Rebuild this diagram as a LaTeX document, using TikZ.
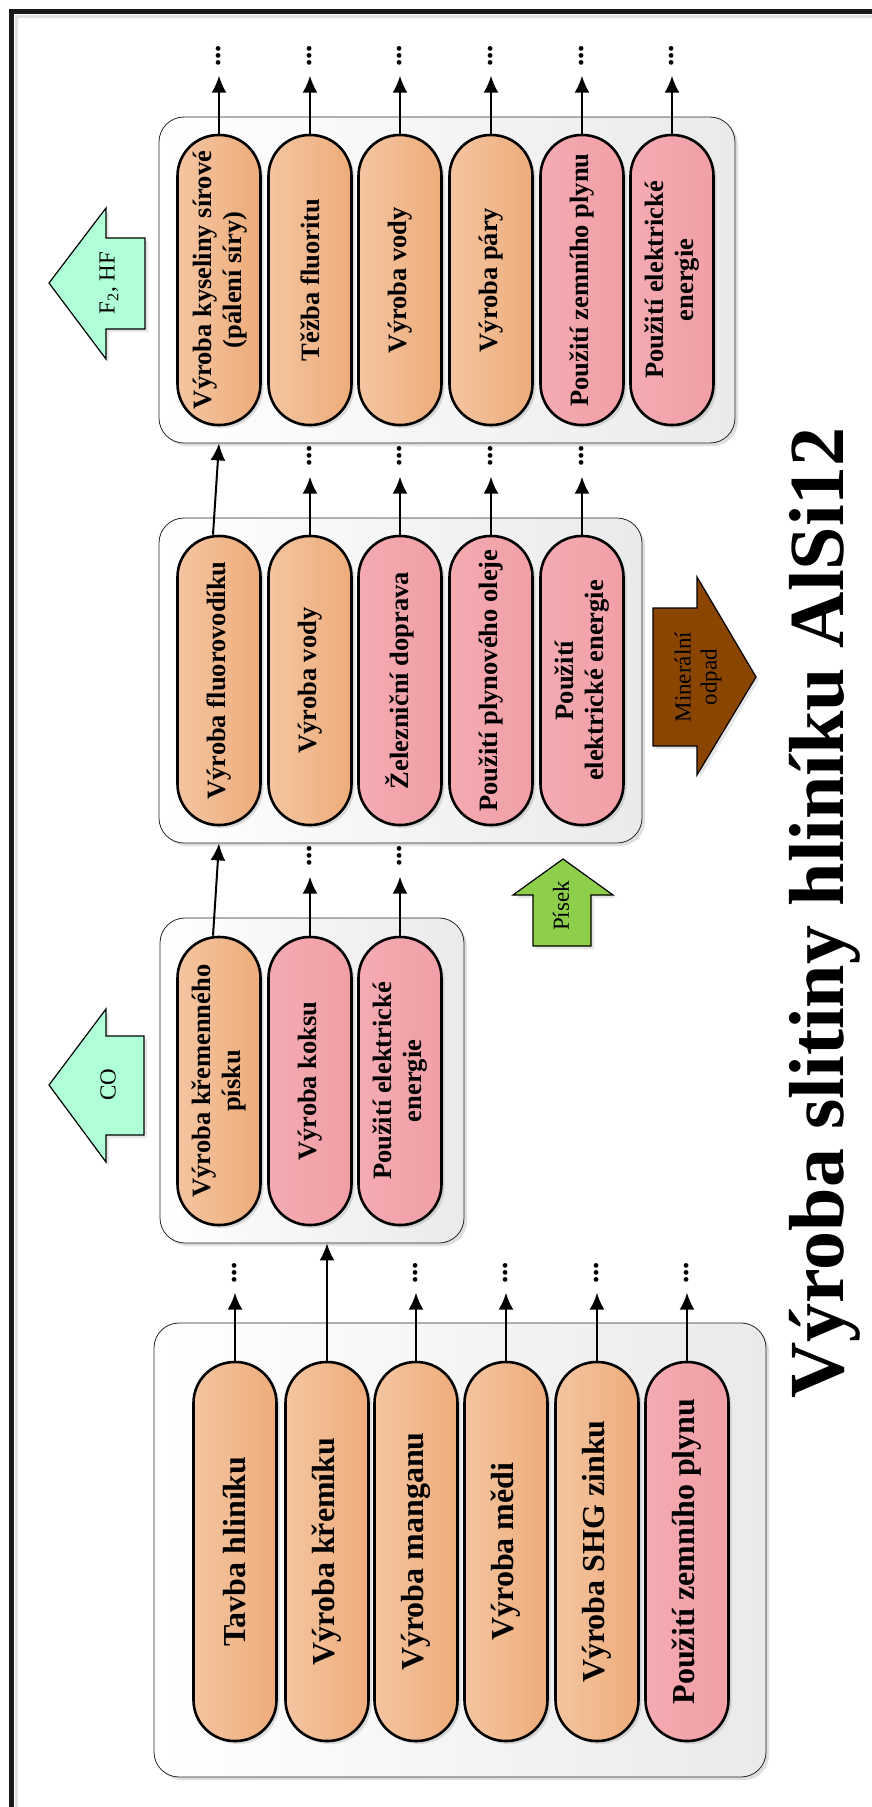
\documentclass[tikz,border=0pt]{standalone}
\usepackage{fontspec}
\setmainfont{Liberation Serif}
\usetikzlibrary{shadows,arrows.meta,calc}

\definecolor{orangeL}{HTML}{F4C5A1}
\definecolor{orangeR}{HTML}{EEAC7A}
\definecolor{pinkL}{HTML}{F5AAB1}
\definecolor{pinkR}{HTML}{F19FA6}
\definecolor{boxR}{HTML}{EAEAEA}
\definecolor{aqua}{HTML}{AFFFD7}
\definecolor{sand}{HTML}{8DCF4A}
\definecolor{waste}{HTML}{8A4600}

\newcommand{\bigpill}{\fontsize{32}{36}\selectfont\bfseries}
\newcommand{\smallpill}{\fontsize{26.5}{30.5}\selectfont\bfseries}
\newcommand{\flowtext}{\fontsize{23}{26}\selectfont}

\begin{document}
\begin{tikzpicture}[x=1pt,y=-1pt,
  group/.style={draw=black!85, line width=0.8pt, rounded corners=25pt,
    left color=white, right color=boxR, inner sep=0pt,
    drop shadow={shadow xshift=3pt,shadow yshift=-3pt,opacity=0.25}},
  pill/.style={draw=black, line width=2.6pt, rounded corners=41pt,
    minimum width=83pt, inner sep=0pt,
    drop shadow={shadow xshift=3pt,shadow yshift=-3pt,opacity=0.25}},
  prod/.style={pill, left color=orangeL, right color=orangeR},
  energy/.style={pill, left color=pinkL, right color=pinkR},
  ptext/.style={rotate=90, align=center, inner sep=0pt},
  flow/.style={line width=2pt, -{Latex[length=17pt,width=15pt]}},
  more/.style={rotate=90, inner sep=0pt, font=\fontsize{29}{30}\selectfont\bfseries},
  bigarrow/.style={draw=black, line width=1.2pt,
    drop shadow={shadow xshift=3pt,shadow yshift=-3pt,opacity=0.2}},
  atext/.style={rotate=90, align=center, inner sep=0pt, font=\flowtext, text=black}
]
\useasboundingbox (0,0) rectangle (872,1807);

% outer frame
\draw[gray!25, line width=3pt] (16,1830) -- (16,16) -- (890,16);
\draw[black!90, line width=4.5pt] (11.5,1830) -- (11.5,11.5) -- (890,11.5);

% ---------- group boxes ----------
\node[group, minimum width=576pt, minimum height=326pt] (g4) at (447,280) {};
\node[group, minimum width=483pt, minimum height=325pt] (g3) at (400.5,680.5) {};
\node[group, minimum width=304pt, minimum height=325pt] (g2) at (312,1080.5) {};
\node[group, minimum width=612pt, minimum height=454pt] (g1) at (460,1550) {};

% ---------- stage 4 ----------
\foreach \n/\x/\s in {a/219/prod, b/310/prod, c/400/prod, d/491/prod, e/582/energy, f/672/energy}
  \node[\s, minimum height=290pt] (p4\n) at (\x,280) {};
\node[ptext, font=\smallpill] (t4a) at ([xshift=1pt]p4a) {Výroba kyseliny sírové\\(pálení síry)};
\node[ptext, font=\smallpill] (t4b) at (p4b) {Těžba fluoritu};
\node[ptext, font=\smallpill] (t4c) at (p4c) {Výroba vody};
\node[ptext, font=\smallpill] (t4d) at (p4d) {Výroba páry};
\node[ptext, font=\smallpill] (t4e) at (p4e) {Použití zemního plynu};
\node[ptext, font=\smallpill] (t4f) at (p4f) {Použití elektrické\\energie};

% ---------- stage 3 ----------
\foreach \n/\x/\s in {a/219/prod, b/310/prod, c/400/energy, d/491/energy, e/582/energy}
  \node[\s, minimum height=289pt] (p3\n) at (\x,680.5) {};
\node[ptext, font=\smallpill] (t3a) at (p3a) {Výroba fluorovodíku};
\node[ptext, font=\smallpill] (t3b) at (p3b) {Výroba vody};
\node[ptext, font=\smallpill] (t3c) at (p3c) {Železniční doprava};
\node[ptext, font=\smallpill] (t3d) at (p3d) {Použití plynového oleje};
\node[ptext, font=\smallpill] (t3e) at (p3e) {Použití\\elektrické energie};

% ---------- stage 2 ----------
\foreach \n/\x/\s in {a/219/prod, b/310/energy, c/400/energy}
  \node[\s, minimum height=288pt] (p2\n) at (\x,1081) {};
\node[ptext, font=\smallpill] (t2a) at (p2a) {Výroba křemenného\\písku};
\node[ptext, font=\smallpill] (t2b) at (p2b) {Výroba koksu};
\node[ptext, font=\smallpill] (t2c) at (p2c) {Použití elektrické\\energie};

% ---------- stage 1 ----------
\foreach \n/\x/\s in {a/235/prod, b/327/prod, c/416/prod, d/506/prod, e/597/prod, f/687/energy}
  \node[\s, minimum height=379pt] (p1\n) at (\x,1551.5) {};
\node[ptext, font=\bigpill] (t1a) at (p1a) {Tavba hliníku};
\node[ptext, font=\bigpill] (t1b) at (p1b) {Výroba křemíku};
\node[ptext, font=\bigpill] (t1c) at (p1c) {Výroba manganu};
\node[ptext, font=\bigpill] (t1d) at (p1d) {Výroba mědi};
\node[ptext, font=\bigpill] (t1e) at (p1e) {Výroba SHG zinku};
\node[ptext, font=\bigpill] (t1f) at (p1f) {Použití zemního plynu};

% ---------- open-ended outputs ----------
\foreach \n in {a,b,c,d,e,f}{
  \coordinate (e4\n) at ($(p4\n.north)+(0,-58)$);
  \draw[flow] (p4\n.north) -- (e4\n);
  \node[more] (m4\n) at ($(e4\n)+(0,-20)$) {...};
}
\foreach \n in {b,c,d,e}{
  \coordinate (e3\n) at ($(p3\n.north)+(0,-58)$);
  \draw[flow] (p3\n.north) -- (e3\n);
  \node[more] (m3\n) at ($(e3\n)+(0,-21)$) {...};
}
\foreach \n in {b,c}{
  \coordinate (e2\n) at ($(p2\n.north)+(0,-59)$);
  \draw[flow] (p2\n.north) -- (e2\n);
  \node[more] (m2\n) at ($(e2\n)+(0,-21)$) {...};
}
\foreach \n in {a,c,d,e,f}{
  \coordinate (e1\n) at ($(p1\n.north)+(0,-68)$);
  \draw[flow] (p1\n.north) -- (e1\n);
  \node[more] (m1\n) at ($(e1\n)+(0,-20)$) {...};
}

% ---------- links between stages ----------
\draw[flow] ([xshift=-6pt]p3a.north) -- (p4a |- g4.south);
\draw[flow] ([xshift=-6pt]p2a.north) -- (p3a |- g3.south);
\draw[flow] (p1b.north) -- (p1b |- g2.south);

% ---------- emissions and inputs ----------
\draw[bigarrow, fill=aqua] (49,283) -- (106,208) -- (106,238) -- (145,238)
  -- (145,329) -- (106,329) -- (106,359) -- cycle;
\node[atext] (f2hf) at (109,283) {F\textsubscript{2}, HF};

\draw[bigarrow, fill=aqua] (49,1085) -- (106,1009) -- (106,1036) -- (144,1036)
  -- (144,1135) -- (106,1135) -- (106,1162) -- cycle;
\node[atext] (co) at (108,1085) {CO};

\draw[bigarrow, fill=waste] (653,608) -- (697,608) -- (697,577) -- (756,677)
  -- (697,775) -- (697,746) -- (653,746) -- cycle;
\node[atext] (odpad) at (698,677) {Minerální\\odpad};

\draw[bigarrow, fill=sand] (563,859) -- (613,895) -- (591,895) -- (591,946)
  -- (533,946) -- (533,895) -- (513,895) -- cycle;
\node[atext] (pisek) at (561,906) {Písek};

% ---------- title ----------
\node[rotate=90, anchor=base, inner sep=0pt,
  font=\fontsize{78}{90}\selectfont\bfseries] (title) at (843,913)
  {Výroba slitiny hliníku AlSi12};
\end{tikzpicture}
\end{document}
